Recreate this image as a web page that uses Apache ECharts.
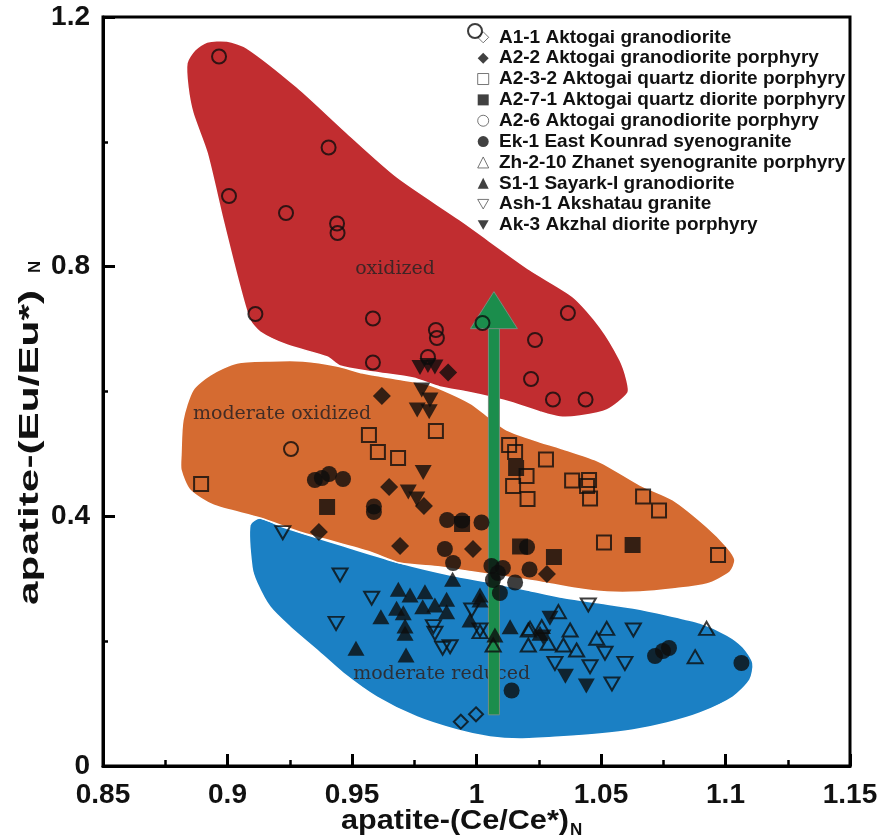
<!DOCTYPE html>
<html><head><meta charset="utf-8">
<script src="https://cdn.jsdelivr.net/npm/echarts@6/dist/echarts.min.js"></script>
<style>html,body{margin:0;padding:0;background:#fff}#c{width:885px;height:839px}</style>
</head><body><div id="c"></div>
<script>
// ---------- axis ticks ----------
const xTicks = [0.85, 0.9, 0.95, 1, 1.05, 1.1, 1.15];
const yTicks = [0, 0.4, 0.8, 1.2];

// ---------- sample data: [Ce/Ce*, Eu/Eu*] ----------
const A1_1 = [[0.9937,0.071],[0.9998,0.0828]];
const A2_2 = [[0.9886,0.6304],[0.962,0.5928],[0.9649,0.447],[0.9367,0.3749],[0.9693,0.3525],[0.9986,0.3477],[1.0283,0.3076],[0.9789,0.4166]];
const A2_3_2 = [[0.8894,0.4518],[0.9568,0.5303],[0.9604,0.5031],[0.9685,0.4935],[0.9837,0.5367],[1.0131,0.5143],[1.0155,0.5031],[1.0279,0.491],[1.0201,0.4646],[1.0147,0.4486],[1.0205,0.4278],[1.0384,0.4574],[1.0452,0.4582],[1.0444,0.4486],[1.0456,0.4286],[1.0669,0.4318],[1.0733,0.4093],[1.0512,0.3581],[1.097,0.3381]];
const A2_7_1 = [[0.94,0.415],[1.0159,0.4774],[1.0175,0.3517],[1.0311,0.3348],[1.0627,0.3541],[0.9942,0.3877]];
const A2_6 = [[0.9994,1.1776],[0.8966,1.1367],[0.9006,0.9132],[0.9235,0.886],[0.9406,0.9909],[0.944,0.8692],[0.9442,0.8539],[0.9112,0.7242],[0.9584,0.717],[0.9584,0.6465],[0.9837,0.6985],[0.9841,0.6857],[1.0024,0.7097],[1.0367,0.7258],[1.0235,0.6825],[1.0219,0.62],[1.0307,0.5872],[1.0438,0.5872],[0.9255,0.5079],[0.9805,0.6553]];
const EK_1 = [[0.9351,0.4582],[0.9379,0.4614],[0.9408,0.4678],[0.9464,0.4598],[0.9588,0.4158],[0.9588,0.4069],[0.9882,0.3941],[0.9942,0.3933],[1.002,0.3901],[0.9873,0.3477],[0.9906,0.3252],[1.006,0.3204],[1.0106,0.3172],[1.0086,0.3092],[1.0155,0.294],[1.0066,0.298],[1.0213,0.3148],[1.0203,0.3509],[1.0094,0.2772],[1.0141,0.121],[1.0717,0.1762],[1.0749,0.1842],[1.0773,0.1891],[1.1064,0.165]];
const ZH_2_10 = [[1.0067,0.1939],[1.0329,0.2472],[1.0215,0.2206],[1.0262,0.2232],[1.0376,0.2179],[1.0483,0.2046],[1.0523,0.2206],[1.0288,0.1966],[1.0349,0.1939],[1.0402,0.1858],[1.0208,0.1939],[1.0014,0.2152],[1.0924,0.2206],[1.0878,0.1751],[1.0208,0.2179]];
const S1_1 = [[0.9904,0.2991],[0.9686,0.2831],[0.9733,0.274],[0.9793,0.2793],[0.988,0.2671],[1.0014,0.274],[0.9679,0.2527],[0.9784,0.2552],[0.9833,0.2579],[0.988,0.2472],[0.9616,0.2392],[0.9706,0.2456],[0.9713,0.2243],[0.9713,0.2126],[0.9974,0.2339],[0.9516,0.1886],[0.9717,0.1778],[1.0014,0.266],[1.0135,0.2232],[1.0074,0.2099],[1.0255,0.2126]];
const ASH_1 = [[0.9222,0.3738],[0.9452,0.306],[0.9579,0.2687],[0.9436,0.2286],[0.9827,0.2232],[0.9833,0.2126],[0.9864,0.1886],[0.9894,0.1911],[0.9981,0.2499],[1.0014,0.2179],[1.0449,0.2579],[1.063,0.2179],[1.0516,0.1806],[1.0596,0.1645],[1.0456,0.1591],[1.0315,0.1645],[1.0544,0.1314]];
const AK_3 = [[0.9773,0.6385],[0.9805,0.6417],[0.9833,0.6393],[0.978,0.6024],[0.9813,0.5864],[0.9762,0.5704],[0.981,0.5676],[0.9786,0.4702],[0.9726,0.439],[0.976,0.4278],[1.0295,0.2366],[1.0357,0.1437],[1.0441,0.1282],[1.0267,0.2067]];

// ---------- field outlines ----------
const oxidizedZone = [[0.8841,1.0878],[0.8837,1.1263],[0.8869,1.1471],[0.8918,1.160],[0.8998,1.1615],[0.9078,1.1503],[0.9279,1.0878],[0.948,1.0142],[0.9681,0.9437],[0.9934,0.8748],[1.0215,0.7947],[1.0388,0.7514],[1.0496,0.7033],[1.0576,0.6505],[1.0604,0.6184],[1.0608,0.5976],[1.0524,0.5704],[1.0416,0.5607],[1.0335,0.5591],[1.0255,0.5672],[1.0147,0.5816],[1.0054,0.5912],[0.9962,0.5992],[0.9853,0.6072],[0.9745,0.6216],[0.9584,0.6312],[0.9452,0.6409],[0.94,0.6553],[0.9239,0.6745],[0.9131,0.6953],[0.909,0.7146],[0.905,0.7674],[0.8982,0.8748],[0.8918,0.9821],[0.8861,1.0462]];
const moderateOxidizedZone = [[0.8813,0.4983],[0.8821,0.5543],[0.8861,0.6024],[0.893,0.6264],[0.9038,0.6457],[0.9171,0.6489],[0.9303,0.6489],[0.944,0.6409],[0.9544,0.6296],[0.9681,0.62],[0.9813,0.6104],[0.9974,0.5816],[1.0054,0.5575],[1.0122,0.5383],[1.0255,0.5191],[1.0335,0.5095],[1.0496,0.4871],[1.0657,0.4502],[1.0789,0.4262],[1.0926,0.3829],[1.1006,0.3509],[1.1038,0.33],[1.1018,0.3108],[1.0926,0.2916],[1.0789,0.2836],[1.0657,0.2788],[1.0524,0.2788],[1.0388,0.2852],[1.0255,0.2948],[1.0122,0.3028],[0.9986,0.3108],[0.9853,0.3188],[0.9693,0.3252],[0.9572,0.3429],[0.9303,0.3733],[0.9131,0.3973],[0.8942,0.4182],[0.8849,0.4422],[0.8813,0.4742]];
const moderateReducedZone = [[0.909,0.3861],[0.9131,0.3973],[0.9223,0.3829],[0.9492,0.3493],[0.9693,0.3252],[0.9894,0.306],[1.0066,0.2932],[1.0203,0.282],[1.0335,0.2708],[1.0496,0.2611],[1.0629,0.2531],[1.0765,0.2419],[1.0898,0.2291],[1.1006,0.2099],[1.107,0.1907],[1.111,0.165],[1.1098,0.1378],[1.103,0.1105],[1.0898,0.0849],[1.0765,0.0689],[1.0629,0.0577],[1.0496,0.0513],[1.0335,0.0465],[1.0175,0.0433],[1.0054,0.0465],[0.9922,0.0577],[0.9761,0.0785],[0.96,0.1105],[0.9464,0.149],[0.9359,0.1858],[0.9251,0.2227],[0.9171,0.2547],[0.9118,0.2932],[0.9098,0.3188]];
const zoneNames = ['moderate reduced', 'moderate oxidized', 'oxidized'];
const zoneLabelPos = [[0.986,0.1474],[0.9219,0.564],[0.9673,0.7963]];

// ---------- arrow: x, start, tip ----------
const arrowLine = [[1.007, 0.082, 0.76]];

const zones = [moderateReducedZone, moderateOxidizedZone, oxidizedZone];
const zoneColors = ['#1b80c4', '#d56b31', '#c12d30'];

const downTri = 'path://M0,0L10,0L5,8.66Z';
const seriesDefs = [
  {name:'A1-1 Aktogai granodiorite', data:A1_1, symbol:'diamond', size:14, open:true},
  {name:'A2-2 Aktogai granodiorite porphyry', data:A2_2, symbol:'diamond', size:18},
  {name:'A2-3-2 Aktogai quartz diorite porphyry', data:A2_3_2, symbol:'rect', size:14, open:true},
  {name:'A2-7-1 Aktogai quartz diorite porphyry', data:A2_7_1, symbol:'rect', size:16},
  {name:'A2-6 Aktogai granodiorite porphyry', data:A2_6, symbol:'circle', size:14, open:true},
  {name:'Ek-1 East Kounrad syenogranite', data:EK_1, symbol:'circle', size:16},
  {name:'Zh-2-10 Zhanet syenogranite porphyry', data:ZH_2_10, symbol:'triangle', size:[15,13], open:true},
  {name:'S1-1 Sayark-I granodiorite', data:S1_1, symbol:'triangle', size:[17,15]},
  {name:'Ash-1 Akshatau granite', data:ASH_1, symbol:downTri, size:[15,13], open:true},
  {name:'Ak-3 Akzhal diorite porphyry', data:AK_3, symbol:downTri, size:[17,15]}
];

const chart = echarts.init(document.getElementById('c'), null, {renderer:'canvas'});

const X0 = 103, Y0 = 17, W = 747, H = 749;

const scatterSeries = seriesDefs.map(d => ({
  name: d.name, type: 'scatter', data: d.data, symbol: d.symbol, symbolSize: d.size,
  z: 5, silent: true,
  itemStyle: d.open ? {color:'rgba(0,0,0,0)', borderColor:'#0c0c0c', borderWidth:2}
                    : {color:'#0c0c0c', borderWidth:0}
}));

const zoneSeries = {
  type:'custom', coordinateSystem:'cartesian2d', z:1, silent:true,
  data: zones.map((z,i) => [z[0][0], z[0][1], i]),
  renderItem: function(params, api){
    const i = params.dataIndex;
    const pts = zones[i].map(p => api.coord(p));
    return {type:'polygon', shape:{points:pts, smooth:0.25},
      style:{fill:zoneColors[i], stroke:'#ffffff', lineWidth:1.5}};
  }
};

const labelSeries = {
  type:'custom', coordinateSystem:'cartesian2d', z:2, silent:true,
  data: zoneLabelPos.map((p,i) => [p[0], p[1], i]),
  renderItem: function(params, api){
    const p = api.coord([api.value(0), api.value(1)]);
    return {type:'text', x:p[0], y:p[1], style:{text: zoneNames[params.dataIndex],
      fontFamily:'DejaVu Serif', fontSize:19, fill:'rgba(45,35,35,0.88)', align:'center', verticalAlign:'middle'}};
  }
};

const arrowSeries = {
  type:'custom', coordinateSystem:'cartesian2d', z:3, silent:true,
  data: arrowLine,
  renderItem: function(params, api){
    const b = api.coord([api.value(0), api.value(1)]);
    const t = api.coord([api.value(0), api.value(2)]);
    const headH = 37, headW = 47, shaftW = 11;
    const st = {fill:'#1b8d4c', stroke:'#718f7d', lineWidth:1};
    return {type:'group', children:[
      {type:'rect', shape:{x:b[0]-shaftW/2, y:t[1]+headH-1, width:shaftW, height:b[1]-t[1]-headH+1}, style:st},
      {type:'polygon', shape:{points:[[t[0],t[1]],[t[0]-headW/2,t[1]+headH],[t[0]+headW/2,t[1]+headH]]}, style:st}
    ]};
  }
};

// measure text for axis titles
const cv = document.createElement('canvas').getContext('2d');
const titleFont = 'bold 28px "Liberation Sans"';
cv.font = titleFont;
const xMain = 'apatite-(Ce/Ce*)', yMain = 'apatite-(Eu/Eu*)';
const xw = cv.measureText(xMain).width, yw = cv.measureText(yMain).width;
const xTitleLeft = 341, xTitleY = 821, xTitleLen = 228;
const yTitleBottom = 605, yTitleX = 30, yTitleLen = 315;

const tickFmt = v => String(parseFloat(Number(v).toFixed(2)));

const option = {
  animation:false,
  backgroundColor:'#fff',
  grid:{left:X0, top:Y0, width:W, height:H, show:true, borderColor:'#000', borderWidth:3, containLabel:false},
  xAxis:{type:'value', min:xTicks[0], max:xTicks[xTicks.length-1], interval:0.05,
    axisLine:{show:true, onZero:false, lineStyle:{color:'#000', width:3}},
    axisTick:{show:true, inside:true, length:12, lineStyle:{color:'#000', width:3}},
    minorTick:{show:true, splitNumber:2, length:6, lineStyle:{color:'#000', width:2.5}},
    splitLine:{show:false},
    axisLabel:{margin:15, color:'#111', fontFamily:'Liberation Sans', fontWeight:'bold', fontSize:28, formatter:tickFmt}
  },
  yAxis:{type:'value', min:yTicks[0], max:yTicks[yTicks.length-1], interval:0.4,
    axisLine:{show:true, onZero:false, lineStyle:{color:'#000', width:3}},
    axisTick:{show:true, inside:true, length:12, lineStyle:{color:'#000', width:3}},
    minorTick:{show:true, splitNumber:2, length:5, lineStyle:{color:'#000', width:2.5}},
    splitLine:{show:false},
    axisLabel:{margin:13, color:'#111', fontFamily:'Liberation Sans', fontWeight:'bold', fontSize:28, formatter:tickFmt}
  },
  legend:{orient:'vertical', left:477.2, top:27.8, itemWidth:11, itemHeight:11, itemGap:1.86,
    selectedMode:false, padding:0, formatter: n => ' ' + n,
    textStyle:{fontFamily:'Liberation Sans', fontWeight:'bold', fontSize:19, color:'#111', lineHeight:19},
    data: seriesDefs.map(d => ({name:d.name,
      itemStyle: d.open ? {color:'#fff', borderColor:'#555', borderWidth:1} : {color:'#111', borderWidth:0}}))
  },
  graphic:[
    {type:'text', x:xTitleLeft, y:xTitleY, scaleX:xTitleLen/xw, style:{text:xMain, font:titleFont, fill:'#111', align:'left', verticalAlign:'middle'}},
    {type:'text', x:xTitleLeft + xTitleLen + 1, y:xTitleY + 9, style:{text:'N', font:'bold 17px "Liberation Sans"', fill:'#111', align:'left', verticalAlign:'middle'}},
    {type:'text', x:yTitleX, y:yTitleBottom, rotation:Math.PI/2, scaleX:yTitleLen/yw, style:{text:yMain, font:titleFont, fill:'#111', align:'left', verticalAlign:'middle'}},
    {type:'text', x:yTitleX + 5, y:yTitleBottom - yTitleLen - 17, rotation:Math.PI/2, style:{text:'N', font:'bold 17px "Liberation Sans"', fill:'#111', align:'left', verticalAlign:'middle'}}
  ],
  series:[zoneSeries, labelSeries, arrowSeries].concat(scatterSeries)
};
chart.setOption(option);
</script>
</body></html>
